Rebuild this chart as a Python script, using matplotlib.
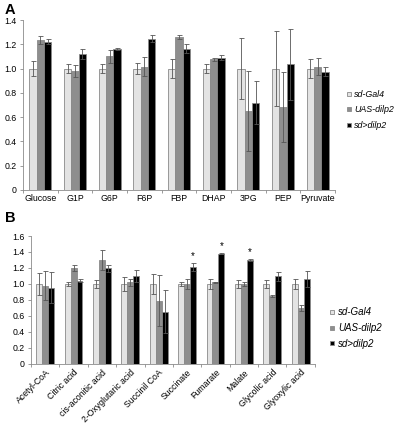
import numpy as np
import matplotlib
matplotlib.use("Agg")
import matplotlib.pyplot as plt
from matplotlib.lines import Line2D

plt.rcParams['font.family'] = ['Liberation Sans', 'DejaVu Sans']

# panel A: glycolysis
cats_a = ['Glucose', 'G1P', 'G6P', 'F6P', 'FBP', 'DHAP', '3PG', 'PEP', 'Pyruvate']
gal4_a = [1.0, 1.0, 1.0, 1.0, 1.0, 1.0, 1.0, 1.0, 1.0]
gal4_a_err = [0.06, 0.04, 0.04, 0.045, 0.075, 0.04, 0.25, 0.31, 0.075]
uas_a = [1.235, 0.98, 1.10, 1.015, 1.26, 1.075, 0.65, 0.685, 1.015]
uas_a_err = [0.03, 0.05, 0.05, 0.08, 0.02, 0.01, 0.33, 0.29, 0.07]
sd_a = [1.22, 1.12, 1.16, 1.245, 1.165, 1.09, 0.72, 1.035, 0.975]
sd_a_err = [0.02, 0.04, 0.01, 0.03, 0.04, 0.02, 0.18, 0.29, 0.04]

# panel B: TCA cycle
cats_b = ['Acetyl-CoA', 'Citric acid', 'cis-aconitic acid', '2-Oxyglutaric acid',
          'Succinil CoA', 'Succinate', 'Fumarate', 'Malate', 'Glycolic acid', 'Glyoxylic acid']
gal4_b = [1.0, 1.0, 1.0, 1.0, 1.0, 1.0, 1.0, 1.0, 1.0, 1.0]
gal4_b_err = [0.14, 0.03, 0.05, 0.09, 0.13, 0.03, 0.06, 0.05, 0.05, 0.06]
uas_b = [0.98, 1.20, 1.30, 1.02, 0.79, 1.0, 1.02, 1.0, 0.85, 0.70]
uas_b_err = [0.18, 0.04, 0.13, 0.04, 0.32, 0.06, 0.01, 0.03, 0.01, 0.04]
sd_b = [0.955, 1.04, 1.195, 1.10, 0.65, 1.21, 1.38, 1.30, 1.095, 1.065]
sd_b_err = [0.19, 0.02, 0.04, 0.07, 0.27, 0.05, 0.01, 0.01, 0.06, 0.10]
star_b = [False, False, False, False, False, True, True, True, False, False]

labels = ['sd-Gal4', 'UAS-dilp2', 'sd>dilp2']
colors = ['#e3e3e3', '#8e8e8e', '#000000']
edge = '#8a8a8a'
fs = 6.3

fig = plt.figure(figsize=(3.97, 4.26), dpi=100)
ax_a = fig.add_axes([0.058, 0.554, 0.786, 0.399])
ax_b = fig.add_axes([0.078, 0.146, 0.715, 0.30])


def draw(ax, cats, series, errs, w, ymax, ystep):
    n = len(cats)
    x = np.arange(n)
    for i, (vals, err) in enumerate(zip(series, errs)):
        ax.bar(x + (i - 1) * w, vals, w, color=colors[i], edgecolor=edge, linewidth=0.6,
               yerr=err, error_kw=dict(ecolor='#555555', elinewidth=0.6, capsize=1.8, capthick=0.6))
    ax.set_xlim(-0.5, n - 0.5)
    ax.set_ylim(0, ymax)
    ax.set_yticks(np.arange(0, ymax + 1e-6, ystep))
    ax.set_yticklabels(['0'] + ['%.1f' % v for v in np.arange(ystep, ymax + 1e-6, ystep)])
    ax.set_xticks(x)
    ax.set_xticks(np.arange(-0.5, n, 1.0), minor=True)
    ax.tick_params(axis='x', which='major', length=0, labelsize=fs, pad=3)
    ax.tick_params(axis='x', which='minor', length=2.5, width=0.6, color=edge)
    ax.tick_params(axis='y', length=2.5, width=0.6, color=edge, labelsize=fs, pad=2)
    for s in ['top', 'right']:
        ax.spines[s].set_visible(False)
    for s in ['left', 'bottom']:
        ax.spines[s].set_color(edge)
        ax.spines[s].set_linewidth(0.6)
    return x


xa = draw(ax_a, cats_a, [gal4_a, uas_a, sd_a], [gal4_a_err, uas_a_err, sd_a_err], 0.21, 1.4, 0.2)
ax_a.set_xticklabels(cats_a)

xb = draw(ax_b, cats_b, [gal4_b, uas_b, sd_b], [gal4_b_err, uas_b_err, sd_b_err], 0.21, 1.6, 0.2)
ax_b.set_xticklabels(cats_b, rotation=45, ha='right', rotation_mode='anchor')
for i, s in enumerate(star_b):
    if s:
        ax_b.text(xb[i] + 0.21, sd_b[i] + sd_b_err[i] + 0.02, '*', ha='center', va='bottom', fontsize=7)

handles = [Line2D([], [], marker='s', linestyle='', markersize=3.5, markerfacecolor=c,
                  markeredgecolor=edge, markeredgewidth=0.6) for c in colors]
fig.legend(handles, labels, loc='center left', bbox_to_anchor=(0.856, 0.742), frameon=False,
           prop=dict(size=6.4, style='italic'), handletextpad=0.1, labelspacing=0.75,
           handlelength=1, borderpad=0)
fig.legend(handles, labels, loc='center left', bbox_to_anchor=(0.812, 0.23), frameon=False,
           prop=dict(size=7, style='italic'), handletextpad=0.1, labelspacing=0.6,
           handlelength=1, borderpad=0)

fig.text(0.012, 0.966, 'A', fontsize=10.5, fontweight='bold')
fig.text(0.012, 0.478, 'B', fontsize=10.5, fontweight='bold')

fig.savefig('out.png', dpi=100)
